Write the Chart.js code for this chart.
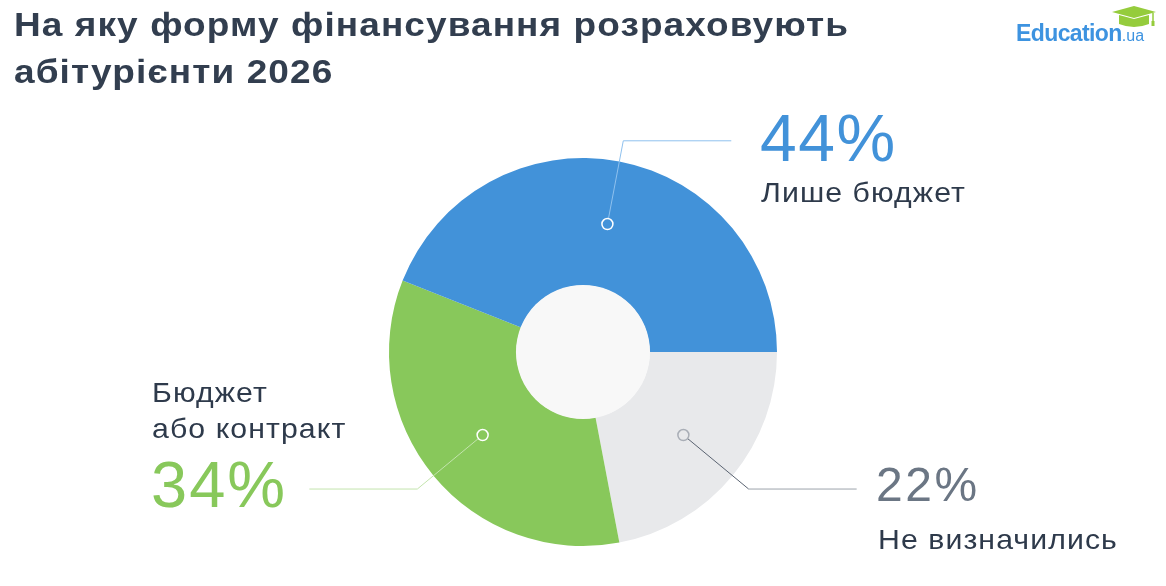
<!DOCTYPE html>
<html lang="uk">
<head>
<meta charset="utf-8">
<title>На яку форму фінансування розраховують абітурієнти 2026</title>
<script src="https://cdn.jsdelivr.net/npm/chart.js@4.4.1/dist/chart.umd.min.js"></script>
<style>
  html, body { margin: 0; padding: 0; background: #fff; }
  body { width: 1166px; height: 586px; position: relative; overflow: hidden; font-family: "Liberation Sans", Arial, sans-serif; }
  #wrap { position: absolute; left: 0; top: 0; width: 1166px; height: 586px; }
  .t { position: absolute; white-space: nowrap; line-height: 1; transform-origin: 0 0; }
  .title { left: 14px; font-weight: bold; font-size: 34px; letter-spacing: 1px; color: #323e4f; transform: scaleX(1.088); }
  .lbl { color: #2e3a4b; font-size: 28px; letter-spacing: 1px; transform: scaleX(1.08); }
  .logo { left: 1016px; top: 22px; font-size: 23px; color: #3d93e0; font-weight: bold; letter-spacing: -0.6px; }
  .logo span { font-weight: normal; font-size: 16px; letter-spacing: 0; }
  #cap { position: absolute; left: 1110px; top: 6px; }
</style>
</head>
<body>
<div id="wrap"><canvas id="pie"></canvas></div>

<div class="t title" style="top:7px">На яку форму фінансування розраховують</div>
<div class="t title" style="top:54px">абітурієнти 2026</div>

<div class="t logo">Education<span>.ua</span></div>
<svg id="cap" width="48" height="24" viewBox="0 0 48 24">
  <polygon points="2,6 24,0 46,6 24,12" fill="#95cc3c"/>
  <path d="M9,9 L9,18 Q24,24 39,18 L39,9 L24,13 Z" fill="#95cc3c"/>
  <line x1="43" y1="7" x2="43" y2="16" stroke="#95cc3c" stroke-width="1.5"/>
  <rect x="41.5" y="15" width="3" height="5" fill="#95cc3c"/>
</svg>

<div class="t" id="p0" style="left:760px;top:105px;font-size:66px;letter-spacing:1.5px"></div>
<div class="t lbl" style="left:761px;top:179px">Лише бюджет</div>

<div class="t lbl" style="left:152px;top:379px">Бюджет</div>
<div class="t lbl" style="left:152px;top:415px">або контракт</div>
<div class="t" id="p1" style="left:151px;top:452px;font-size:65px;letter-spacing:2px"></div>

<div class="t" id="p2" style="left:876px;top:461px;font-size:48px;letter-spacing:2.5px"></div>
<div class="t lbl" style="left:878px;top:526px">Не визначились</div>

<script>
// chart data (clockwise from 3 o'clock)
const categories = ['Не визначились', 'Бюджет або контракт', 'Лише бюджет'];
const shares = [22, 34, 44];
const sliceColors = ['#e8e9eb', '#88c85b', '#4292d9'];

// leader line styling per slice
const lineColors = ['#5a6371', '#c3e4ad', '#8fc1ee'];
const flatColors = ['#9ca3ab', '#c3e4ad', '#8fc1ee'];
const markerColors = ['#a9aeb6', '#ffffff', '#ffffff'];

// percentage labels, same order as the slices
document.getElementById('p0').textContent = shares[2] + '%';
document.getElementById('p0').style.color = sliceColors[2];
document.getElementById('p1').textContent = shares[1] + '%';
document.getElementById('p1').style.color = sliceColors[1];
document.getElementById('p2').textContent = shares[0] + '%';
document.getElementById('p2').style.color = '#6b7684';

const holeAndLeaders = {
    id: 'holeAndLeaders',
    afterDatasetsDraw(chart) {
        const meta = chart.getDatasetMeta(0);
        const ctx = chart.ctx;
        const first = meta.data[0];
        const cx = first.x, cy = first.y;
        const inner = meta.controller.innerRadius;

        // light centre disc
        ctx.save();
        ctx.beginPath();
        ctx.arc(cx, cy, inner + 0.5, 0, Math.PI * 2);
        ctx.fillStyle = '#f8f8f8';
        ctx.fill();

        meta.data.forEach((arc, i) => {
            const pos = arc.tooltipPosition();
            const dx = pos.x - cx, dy = pos.y - cy;
            const len = Math.sqrt(dx * dx + dy * dy);
            const ux = dx / len, uy = dy / len;
            const mr = 5.5;
            const ex = cx + ux * 215, ey = cy + uy * 215;
            const hx = ex + (ux >= 0 ? 108 : -108);

            ctx.lineWidth = 1;
            ctx.strokeStyle = lineColors[i];
            ctx.beginPath();
            ctx.moveTo(pos.x + ux * mr, pos.y + uy * mr);
            ctx.lineTo(ex, ey);
            ctx.stroke();

            ctx.strokeStyle = flatColors[i];
            ctx.beginPath();
            ctx.moveTo(ex, ey);
            ctx.lineTo(hx, ey);
            ctx.stroke();

            ctx.lineWidth = 1.5;
            ctx.strokeStyle = markerColors[i];
            ctx.beginPath();
            ctx.arc(pos.x, pos.y, mr, 0, Math.PI * 2);
            ctx.stroke();
        });
        ctx.restore();
    }
};

new Chart(document.getElementById('pie'), {
    type: 'doughnut',
    data: {
        labels: categories,
        datasets: [{
            data: shares,
            backgroundColor: sliceColors,
            borderWidth: 0,
            hoverBorderWidth: 0,
            hoverOffset: 0,
            offset: 0
        }]
    },
    options: {
        responsive: true,
        maintainAspectRatio: false,
        animation: false,
        rotation: 90,
        cutout: '34.3%',
        events: [],
        layout: { padding: { left: 389, right: 389, top: 158, bottom: 40 } },
        plugins: {
            legend: { display: false },
            tooltip: { enabled: false }
        }
    },
    plugins: [holeAndLeaders]
});
</script>
</body>
</html>
